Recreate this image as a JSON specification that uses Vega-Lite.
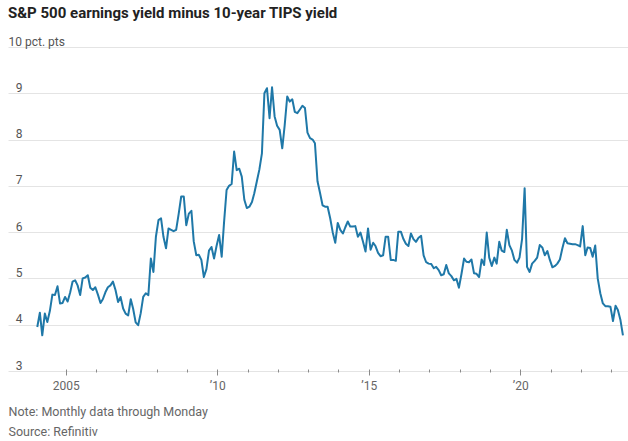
{
  "$schema": "https://vega.github.io/schema/vega-lite/v6.json",
  "autosize": {"type": "none"},
  "width": 620,
  "height": 324,
  "padding": {"left": 8, "top": 47, "right": 0, "bottom": 70},
  "background": "white",
  "config": {
    "view": {"stroke": null},
    "font": "Roboto"
  },
  "title": {
    "text": "S&P 500 earnings yield minus 10-year TIPS yield",
    "anchor": "start",
    "frame": "group",
    "font": "Roboto",
    "fontSize": 15,
    "fontWeight": "bold",
    "color": "#222222",
    "offset": 14
  },
  "data": {
    "values": [
      {"date": "2004-01-23", "v": 3.95}, {"date": "2004-02-23", "v": 4.26}, {"date": "2004-03-23", "v": 3.77}, {"date": "2004-04-23", "v": 4.24}, {"date": "2004-05-23", "v": 4.06}, {"date": "2004-06-23", "v": 4.30}, {"date": "2004-07-23", "v": 4.65}, {"date": "2004-08-23", "v": 4.64}, {"date": "2004-09-23", "v": 4.83}, {"date": "2004-10-23", "v": 4.46}, {"date": "2004-11-23", "v": 4.47}, {"date": "2004-12-23", "v": 4.60},
      {"date": "2005-01-23", "v": 4.50}, {"date": "2005-02-23", "v": 4.70}, {"date": "2005-03-23", "v": 4.93}, {"date": "2005-04-23", "v": 4.96}, {"date": "2005-05-23", "v": 4.85}, {"date": "2005-06-23", "v": 4.64}, {"date": "2005-07-23", "v": 5.00}, {"date": "2005-08-23", "v": 5.02}, {"date": "2005-09-23", "v": 5.07}, {"date": "2005-10-23", "v": 4.80}, {"date": "2005-11-23", "v": 4.75}, {"date": "2005-12-23", "v": 4.81},
      {"date": "2006-01-23", "v": 4.65}, {"date": "2006-02-23", "v": 4.47}, {"date": "2006-03-23", "v": 4.55}, {"date": "2006-04-23", "v": 4.70}, {"date": "2006-05-23", "v": 4.81}, {"date": "2006-06-23", "v": 4.85}, {"date": "2006-07-23", "v": 4.93}, {"date": "2006-08-23", "v": 4.75}, {"date": "2006-09-23", "v": 4.49}, {"date": "2006-10-23", "v": 4.60}, {"date": "2006-11-23", "v": 4.35}, {"date": "2006-12-23", "v": 4.24},
      {"date": "2007-01-23", "v": 4.20}, {"date": "2007-02-23", "v": 4.55}, {"date": "2007-03-23", "v": 4.35}, {"date": "2007-04-23", "v": 4.05}, {"date": "2007-05-23", "v": 3.99}, {"date": "2007-06-23", "v": 4.25}, {"date": "2007-07-23", "v": 4.60}, {"date": "2007-08-23", "v": 4.68}, {"date": "2007-09-23", "v": 4.64}, {"date": "2007-10-23", "v": 5.43}, {"date": "2007-11-23", "v": 5.14}, {"date": "2007-12-23", "v": 5.90},
      {"date": "2008-01-23", "v": 6.26}, {"date": "2008-02-23", "v": 6.30}, {"date": "2008-03-23", "v": 5.90}, {"date": "2008-04-23", "v": 5.65}, {"date": "2008-05-23", "v": 6.08}, {"date": "2008-06-23", "v": 6.05}, {"date": "2008-07-23", "v": 6.02}, {"date": "2008-08-23", "v": 6.05}, {"date": "2008-09-23", "v": 6.40}, {"date": "2008-10-23", "v": 6.77}, {"date": "2008-11-23", "v": 6.77}, {"date": "2008-12-23", "v": 6.15},
      {"date": "2009-01-23", "v": 6.40}, {"date": "2009-02-23", "v": 6.46}, {"date": "2009-03-23", "v": 5.80}, {"date": "2009-04-23", "v": 5.50}, {"date": "2009-05-23", "v": 5.51}, {"date": "2009-06-23", "v": 5.40}, {"date": "2009-07-23", "v": 5.03}, {"date": "2009-08-23", "v": 5.20}, {"date": "2009-09-23", "v": 5.60}, {"date": "2009-10-23", "v": 5.68}, {"date": "2009-11-23", "v": 5.43}, {"date": "2009-12-23", "v": 5.70},
      {"date": "2010-01-23", "v": 5.94}, {"date": "2010-02-23", "v": 5.47}, {"date": "2010-03-23", "v": 6.20}, {"date": "2010-04-23", "v": 6.91}, {"date": "2010-05-23", "v": 7.00}, {"date": "2010-06-23", "v": 7.04}, {"date": "2010-07-23", "v": 7.74}, {"date": "2010-08-23", "v": 7.34}, {"date": "2010-09-23", "v": 7.37}, {"date": "2010-10-23", "v": 7.20}, {"date": "2010-11-23", "v": 6.70}, {"date": "2010-12-23", "v": 6.52},
      {"date": "2011-01-23", "v": 6.55}, {"date": "2011-02-23", "v": 6.65}, {"date": "2011-03-23", "v": 6.84}, {"date": "2011-04-23", "v": 7.10}, {"date": "2011-05-23", "v": 7.35}, {"date": "2011-06-23", "v": 7.70}, {"date": "2011-07-23", "v": 9.00}, {"date": "2011-08-23", "v": 9.11}, {"date": "2011-09-23", "v": 8.46}, {"date": "2011-10-23", "v": 9.13}, {"date": "2011-11-23", "v": 8.50}, {"date": "2011-12-23", "v": 8.30},
      {"date": "2012-01-23", "v": 8.21}, {"date": "2012-02-23", "v": 7.81}, {"date": "2012-03-23", "v": 8.30}, {"date": "2012-04-23", "v": 8.93}, {"date": "2012-05-23", "v": 8.82}, {"date": "2012-06-23", "v": 8.87}, {"date": "2012-07-23", "v": 8.60}, {"date": "2012-08-23", "v": 8.57}, {"date": "2012-09-23", "v": 8.65}, {"date": "2012-10-23", "v": 8.73}, {"date": "2012-11-23", "v": 8.68}, {"date": "2012-12-23", "v": 8.15},
      {"date": "2013-01-23", "v": 8.03}, {"date": "2013-02-23", "v": 8.00}, {"date": "2013-03-23", "v": 7.92}, {"date": "2013-04-23", "v": 7.10}, {"date": "2013-05-23", "v": 6.85}, {"date": "2013-06-23", "v": 6.58}, {"date": "2013-07-23", "v": 6.55}, {"date": "2013-08-23", "v": 6.55}, {"date": "2013-09-23", "v": 6.30}, {"date": "2013-10-23", "v": 6.00}, {"date": "2013-11-23", "v": 5.77}, {"date": "2013-12-23", "v": 6.20},
      {"date": "2014-01-23", "v": 6.05}, {"date": "2014-02-23", "v": 5.97}, {"date": "2014-03-23", "v": 6.10}, {"date": "2014-04-23", "v": 6.23}, {"date": "2014-05-23", "v": 6.12}, {"date": "2014-06-23", "v": 6.12}, {"date": "2014-07-23", "v": 6.13}, {"date": "2014-08-23", "v": 5.90}, {"date": "2014-09-23", "v": 5.99}, {"date": "2014-10-23", "v": 5.80}, {"date": "2014-11-23", "v": 5.58}, {"date": "2014-12-23", "v": 6.08},
      {"date": "2015-01-23", "v": 5.62}, {"date": "2015-02-23", "v": 5.77}, {"date": "2015-03-23", "v": 5.70}, {"date": "2015-04-23", "v": 5.55}, {"date": "2015-05-23", "v": 5.48}, {"date": "2015-06-23", "v": 5.50}, {"date": "2015-07-23", "v": 5.90}, {"date": "2015-08-23", "v": 5.90}, {"date": "2015-09-23", "v": 5.40}, {"date": "2015-10-23", "v": 5.40}, {"date": "2015-11-23", "v": 5.38}, {"date": "2015-12-23", "v": 6.01},
      {"date": "2016-01-23", "v": 6.01}, {"date": "2016-02-23", "v": 5.85}, {"date": "2016-03-23", "v": 5.75}, {"date": "2016-04-23", "v": 5.70}, {"date": "2016-05-23", "v": 5.97}, {"date": "2016-06-23", "v": 5.85}, {"date": "2016-07-23", "v": 5.79}, {"date": "2016-08-23", "v": 5.88}, {"date": "2016-09-23", "v": 5.92}, {"date": "2016-10-23", "v": 5.50}, {"date": "2016-11-23", "v": 5.35}, {"date": "2016-12-23", "v": 5.32},
      {"date": "2017-01-23", "v": 5.31}, {"date": "2017-02-23", "v": 5.22}, {"date": "2017-03-23", "v": 5.25}, {"date": "2017-04-23", "v": 5.18}, {"date": "2017-05-23", "v": 5.07}, {"date": "2017-06-23", "v": 5.09}, {"date": "2017-07-23", "v": 5.29}, {"date": "2017-08-23", "v": 5.11}, {"date": "2017-09-23", "v": 5.05}, {"date": "2017-10-23", "v": 4.96}, {"date": "2017-11-23", "v": 4.99}, {"date": "2017-12-23", "v": 4.80},
      {"date": "2018-01-23", "v": 5.10}, {"date": "2018-02-23", "v": 5.43}, {"date": "2018-03-23", "v": 5.36}, {"date": "2018-04-23", "v": 5.35}, {"date": "2018-05-23", "v": 5.41}, {"date": "2018-06-23", "v": 5.11}, {"date": "2018-07-23", "v": 5.10}, {"date": "2018-08-23", "v": 5.03}, {"date": "2018-09-23", "v": 5.41}, {"date": "2018-10-23", "v": 5.29}, {"date": "2018-11-23", "v": 5.99}, {"date": "2018-12-23", "v": 5.45},
      {"date": "2019-01-23", "v": 5.27}, {"date": "2019-02-23", "v": 5.45}, {"date": "2019-03-23", "v": 5.32}, {"date": "2019-04-23", "v": 5.79}, {"date": "2019-05-23", "v": 5.60}, {"date": "2019-06-23", "v": 5.57}, {"date": "2019-07-23", "v": 6.05}, {"date": "2019-08-23", "v": 5.72}, {"date": "2019-09-23", "v": 5.60}, {"date": "2019-10-23", "v": 5.40}, {"date": "2019-11-23", "v": 5.34}, {"date": "2019-12-23", "v": 5.45},
      {"date": "2020-01-23", "v": 5.85}, {"date": "2020-02-23", "v": 6.95}, {"date": "2020-03-23", "v": 5.25}, {"date": "2020-04-23", "v": 5.14}, {"date": "2020-05-23", "v": 5.32}, {"date": "2020-06-23", "v": 5.38}, {"date": "2020-07-23", "v": 5.45}, {"date": "2020-08-23", "v": 5.72}, {"date": "2020-09-23", "v": 5.67}, {"date": "2020-10-23", "v": 5.50}, {"date": "2020-11-23", "v": 5.59}, {"date": "2020-12-23", "v": 5.40},
      {"date": "2021-01-23", "v": 5.24}, {"date": "2021-02-23", "v": 5.27}, {"date": "2021-03-23", "v": 5.32}, {"date": "2021-04-23", "v": 5.41}, {"date": "2021-05-23", "v": 5.65}, {"date": "2021-06-23", "v": 5.87}, {"date": "2021-07-23", "v": 5.76}, {"date": "2021-08-23", "v": 5.75}, {"date": "2021-09-23", "v": 5.74}, {"date": "2021-10-23", "v": 5.74}, {"date": "2021-11-23", "v": 5.72}, {"date": "2021-12-23", "v": 5.69},
      {"date": "2022-01-23", "v": 6.13}, {"date": "2022-02-23", "v": 5.50}, {"date": "2022-03-23", "v": 5.67}, {"date": "2022-04-23", "v": 5.66}, {"date": "2022-05-23", "v": 5.47}, {"date": "2022-06-23", "v": 5.71}, {"date": "2022-07-23", "v": 5.00}, {"date": "2022-08-23", "v": 4.68}, {"date": "2022-09-23", "v": 4.46}, {"date": "2022-10-23", "v": 4.40}, {"date": "2022-11-23", "v": 4.40}, {"date": "2022-12-23", "v": 4.39},
      {"date": "2023-01-23", "v": 4.08}, {"date": "2023-02-23", "v": 4.41}, {"date": "2023-03-23", "v": 4.32}, {"date": "2023-04-23", "v": 4.10}, {"date": "2023-05-23", "v": 3.77}
    ]
  },
  "mark": {"type": "line", "color": "#1f78a8", "strokeWidth": 2, "strokeJoin": "round", "clip": true},
  "encoding": {
    "x": {
      "field": "date",
      "type": "temporal",
      "scale": {
        "type": "utc",
        "domain": [
          {"year": 2003, "month": 2, "date": 4, "utc": true},
          {"year": 2023, "month": 7, "date": 23, "utc": true}
        ]
      },
      "axis": {
        "values": [
          {"year": 2005, "utc": true}, {"year": 2006, "utc": true}, {"year": 2007, "utc": true}, {"year": 2008, "utc": true},
          {"year": 2009, "utc": true}, {"year": 2010, "utc": true}, {"year": 2011, "utc": true}, {"year": 2012, "utc": true},
          {"year": 2013, "utc": true}, {"year": 2014, "utc": true}, {"year": 2015, "utc": true}, {"year": 2016, "utc": true},
          {"year": 2017, "utc": true}, {"year": 2018, "utc": true}, {"year": 2019, "utc": true}, {"year": 2020, "utc": true},
          {"year": 2021, "utc": true}, {"year": 2022, "utc": true}, {"year": 2023, "utc": true}
        ],
        "domain": false,
        "grid": false,
        "offset": -2,
        "tickColor": "#8a8a8a",
        "tickWidth": 1,
        "tickSize": {"condition": {"test": "utcyear(datum.value) % 5 == 0", "value": 6}, "value": 3},
        "labelExpr": "utcyear(datum.value) == 2005 ? '2005' : (utcyear(datum.value) % 5 == 0 ? '’' + substring(toString(utcyear(datum.value)), 2) : '')",
        "labelFont": "Roboto",
        "labelFontSize": 12,
        "labelColor": "#666666",
        "labelPadding": 5,
        "labelFlush": false,
        "labelOverlap": false,
        "title": ["Note: Monthly data through Monday", "Source: Refinitiv"],
        "titleFont": "Roboto",
        "titleFontSize": 12.5,
        "titleFontWeight": "normal",
        "titleColor": "#666666",
        "titleAnchor": "start",
        "titleAlign": "left",
        "titleBaseline": "top",
        "titleLineHeight": 20,
        "titleX": 0,
        "titleY": 36
      }
    },
    "y": {
      "field": "v",
      "type": "quantitative",
      "scale": {"domain": [3, 10], "nice": false, "zero": false},
      "axis": {
        "values": [3, 4, 5, 6, 7, 8, 9, 10],
        "domain": false,
        "ticks": false,
        "tickSize": 0,
        "grid": true,
        "gridColor": "#e4e4e4",
        "gridWidth": 1,
        "labelExpr": "datum.value == 10 ? '10 pct. pts' : datum.label",
        "labelAlign": {"condition": {"test": "datum.value == 10", "value": "left"}, "value": "right"},
        "labelPadding": {"condition": {"test": "datum.value == 10", "value": 0}, "value": -14},
        "labelBaseline": "alphabetic",
        "labelOffset": -2,
        "labelFont": "Roboto",
        "labelFontSize": 12,
        "labelColor": "#555555",
        "title": null
      }
    }
  }
}
